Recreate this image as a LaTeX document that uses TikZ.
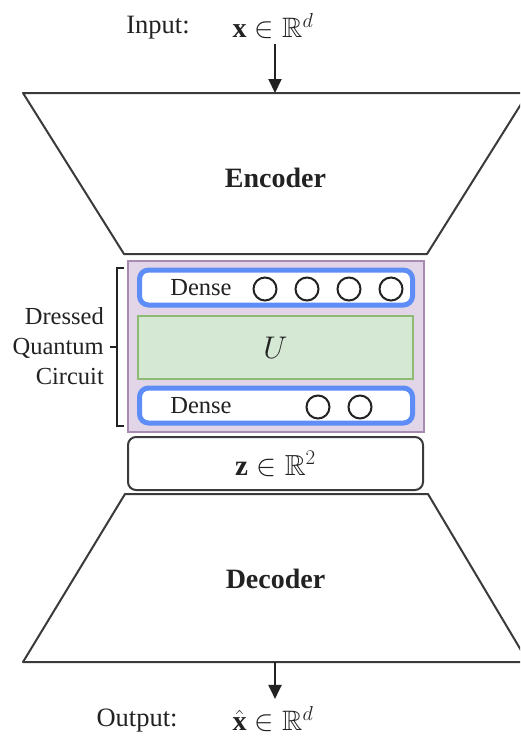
\documentclass[tikz,border=0pt]{standalone}
\usepackage{amsmath,amssymb}
\usepackage{graphicx}
\usepackage{fontspec}
\setmainfont{Liberation Serif}
\usetikzlibrary{arrows.meta,calc}

\definecolor{ink}{HTML}{222222}
\definecolor{edgegray}{HTML}{3A3A3A}
\definecolor{dqcfill}{HTML}{E1D5E7}
\definecolor{dqcline}{HTML}{A68BB5}
\definecolor{ufill}{HTML}{D5E8D4}
\definecolor{uline}{HTML}{8DBB74}
\definecolor{denseblue}{HTML}{5E8DF7}

% math set at 24pt, then enlarged
\newcommand{\bigmath}[2]{\scalebox{#1}{$#2$}}

\begin{document}
\begin{tikzpicture}[x=1pt,y=-1pt,
  iotxt/.style={font=\fontsize{26.5}{32}\selectfont, text=ink, inner sep=0pt},
  txt/.style={font=\fontsize{24.5}{30}\selectfont, text=ink, inner sep=0pt},
  mathtxt/.style={font=\fontsize{24}{30}\selectfont, text=ink, inner sep=0pt},
  title/.style={font=\fontsize{28}{32}\selectfont\bfseries, text=ink, inner sep=0pt},
  shapeline/.style={draw=edgegray, line width=2pt, line join=round},
  flow/.style={draw=ink, line width=2pt, -{Triangle[length=14pt,width=13pt]}},
  latent/.style={draw=edgegray, line width=2pt, rounded corners=8pt, fill=white,
                 minimum width=295pt, minimum height=53pt, inner sep=0pt,
                 font=\fontsize{24}{30}\selectfont, text=ink},
  dqcbox/.style={draw=dqcline, fill=dqcfill, line width=2pt,
                 minimum width=296pt, minimum height=171pt, inner sep=0pt},
  denselayer/.style={draw=denseblue, fill=white, line width=5pt, rounded corners=9pt,
                 minimum width=273pt, minimum height=35pt, inner sep=0pt},
  unitary/.style={draw=uline, fill=ufill, line width=1.5pt,
                 minimum width=275pt, minimum height=63pt, inner sep=0pt,
                 font=\fontsize{24}{30}\selectfont, text=ink},
  neuron/.style={circle, draw=ink, line width=2pt, minimum size=23pt, inner sep=0pt},
  brace/.style={draw=ink, line width=1.5pt}
]
\useasboundingbox (0,0) rectangle (520,736);
\clip (0,0) rectangle (520,736);

% Input
\node[iotxt] (inlab) at (158,28) {Input:};
\node[mathtxt] (inx) at (273,26) {\bigmath{1.17}{\mathbf{x}\in\mathbb{R}^d}};

% Encoder
\coordinate (enctl) at (23,93);
\coordinate (enctr) at (528,93);
\coordinate (encbr) at (427,254);
\coordinate (encbl) at (124,254);
\coordinate (enctop) at (275,93);
\draw[shapeline] (enctl) -- (enctr) -- (encbr) -- (encbl) -- cycle;
\node[title] (enc) at (275.5,178) {Encoder};
\draw[flow] (inx.south -| enctop) ++(0,5) -- (enctop);

% Dressed quantum circuit
\node[dqcbox] (dqc) at (276,346.5) {};
\node[denselayer] (d1) at (276,287.5) {};
\node[unitary] (u) at (275.5,347.5) {\bigmath{1.26}{U}};
\node[denselayer] (d2) at (276,405.5) {};

\node[txt] (d1lab) at (201,288) {Dense};
\node[neuron] (n11) at (265,289) {};
\node[neuron] (n12) at (307,289) {};
\node[neuron] (n13) at (349,289) {};
\node[neuron] (n14) at (391,289) {};

\node[txt] (d2lab) at (201,406) {Dense};
\node[neuron] (n21) at (318,407) {};
\node[neuron] (n22) at (360,407) {};

% Bracket and label
\coordinate (bt) at (117,268);
\coordinate (bb) at (117,426);
\coordinate (bm) at (117,347);
\draw[brace] (124,268) -- (bt) -- (bb) -- (124,426);
\draw[brace] (bm) -- (110,347);
\node[txt, align=right, anchor=east] (dqclab) at (104,346) {Dressed\\Quantum\\Circuit};

% Latent space
\node[latent] (z) at (275.5,463.5) {\bigmath{1.21}{\mathbf{z}\in\mathbb{R}^2}};

% Decoder
\coordinate (dectl) at (125,494);
\coordinate (dectr) at (428,494);
\coordinate (decbr) at (528,662);
\coordinate (decbl) at (23,662);
\coordinate (decbot) at (275,662);
\draw[shapeline] (dectl) -- (dectr) -- (decbr) -- (decbl) -- cycle;
\node[title] (dec) at (275.5,579) {Decoder};

% Output
\node[iotxt] (outlab) at (137,721) {Output:};
\node[mathtxt] (outx) at (273,719) {\bigmath{1.17}{\hat{\mathbf{x}}\in\mathbb{R}^d}};
\draw[flow] (decbot) -- ($(outx.north -| decbot)+(0,-7)$);
\end{tikzpicture}
\end{document}
